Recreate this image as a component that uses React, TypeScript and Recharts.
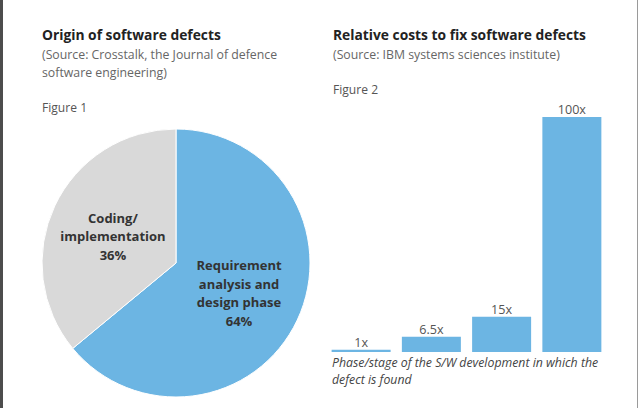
import React from 'react';
import { PieChart, Pie, Cell, BarChart, Bar, XAxis, YAxis, LabelList } from 'recharts';

// Figure 1: origin of defects
const pieNames = ['Requirement analysis and design phase', 'Coding/implementation'];
const pieValues = [64, 36];
const pieLabelLines = [
  ['Requirement', 'analysis and', 'design phase'],
  ['Coding/', 'implementation'],
];
const PIE_COLORS = ['#6cb5e3', '#d9d9d9'];

// Figure 2: relative cost to fix
const barStages = ['Design', 'Implementation', 'Testing', 'Maintenance'];
const barValues = [1, 6.5, 15, 100];
const barLabels = ['1x', '6.5x', '15x', '100x'];

const pieData = pieNames.map((name, i) => ({ name, value: pieValues[i], lines: pieLabelLines[i] }));
const barData = barStages.map((stage, i) => ({ stage, value: barValues[i], label: barLabels[i] }));

const FONT = '"Open Sans", "Noto Sans", sans-serif';
const RAD = Math.PI / 180;

const renderPieLabel = (props: any) => {
  const { cx, cy, midAngle, outerRadius, index } = props;
  const r = outerRadius * 0.52;
  const x = cx + r * Math.cos(-midAngle * RAD);
  const y = cy + r * Math.sin(-midAngle * RAD);
  const lines = [...pieData[index].lines, `${pieData[index].value}%`];
  const lh = 18.5;
  const y0 = y - ((lines.length - 1) * lh) / 2 + (index === 0 ? 5.5 : 8);
  return (
    <text x={x} y={y0} textAnchor="middle" fill="#333" fontSize={13} fontWeight={700} fontFamily={FONT}>
      {lines.map((l, i) => (
        <tspan key={i} x={x} y={y0 + i * lh}>{l}</tspan>
      ))}
    </text>
  );
};

const abs = (left: number, top: number, extra: React.CSSProperties = {}): React.CSSProperties => ({
  position: 'absolute', left, top, whiteSpace: 'nowrap', fontFamily: FONT, ...extra,
});

export default function App() {
  return (
    <div style={{ position: 'absolute', left: 0, top: 0, width: 640, height: 408, background: '#fff', overflow: 'hidden' }}>
      <div style={{ position: 'absolute', left: 0, top: 0, width: 3, height: 408, background: '#4d4d4d' }} />
      <div style={{ position: 'absolute', left: 637, top: 0, width: 1, height: 408, background: '#9a9a9a' }} />

      <div style={abs(42, 26, { fontSize: 13.8, fontWeight: 700, color: '#222', lineHeight: '18px' })}>Origin of software defects</div>
      <div style={abs(42, 46, { fontSize: 12.3, color: '#666', lineHeight: '17.5px' })}>
        (Source: Crosstalk, the Journal of defence<br />software engineering)
      </div>
      <div style={abs(42, 99, { fontSize: 12.1, color: '#555', lineHeight: '18px' })}>Figure 1</div>

      <div style={abs(333, 26, { fontSize: 13.8, fontWeight: 700, color: '#222', lineHeight: '18px' })}>Relative costs to fix software defects</div>
      <div style={abs(333, 46, { fontSize: 12.3, color: '#666', lineHeight: '17.5px' })}>(Source: IBM systems sciences institute)</div>
      <div style={abs(333, 81, { fontSize: 12.1, color: '#555', lineHeight: '18px' })}>Figure 2</div>

      <div style={abs(26, 113)}>
        <PieChart width={300} height={300} margin={{ top: 0, right: 0, bottom: 0, left: 0 }}>
          <Pie
            data={pieData}
            dataKey="value"
            nameKey="name"
            cx={150}
            cy={150}
            outerRadius={134}
            startAngle={90}
            endAngle={-270}
            stroke="#fff"
            strokeWidth={1}
            labelLine={false}
            label={renderPieLabel}
            isAnimationActive={false}
          >
            {pieData.map((d, i) => (
              <Cell key={d.name} fill={PIE_COLORS[i]} />
            ))}
          </Pie>
        </PieChart>
      </div>

      <div style={abs(326, 87)}>
        <BarChart width={281} height={265} data={barData} margin={{ top: 30, right: 0, bottom: 0, left: 0 }} barCategoryGap="8%">
          <XAxis dataKey="stage" hide />
          <YAxis domain={[0, 100]} hide />
          <Bar dataKey="value" fill="#6cb5e3" isAnimationActive={false}>
            <LabelList dataKey="label" position="top" offset={3} fill="#555" fontSize={12.6} fontFamily={FONT} />
          </Bar>
        </BarChart>
      </div>

      <div style={abs(332, 354, { fontSize: 12.3, fontStyle: 'italic', color: '#444', lineHeight: '17px' })}>
        Phase/stage of the S/W development in which the<br />defect is found
      </div>
    </div>
  );
}
